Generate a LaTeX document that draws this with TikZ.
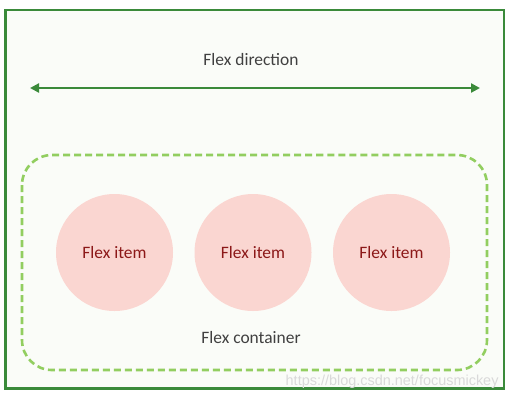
\documentclass[tikz,border=0pt]{standalone}
\usepackage{fontspec}
\setmainfont{Carlito}
\newfontfamily\wmfont{Liberation Sans}
\usetikzlibrary{arrows.meta, positioning}
\definecolor{framegreen}{RGB}{58,138,58}
\definecolor{dashgreen}{RGB}{146,206,96}
\definecolor{itempink}{RGB}{250,214,209}
\definecolor{itemred}{RGB}{140,24,24}
\definecolor{labelgray}{RGB}{64,64,64}
\definecolor{bgtint}{RGB}{250,252,248}
\begin{document}
\begin{tikzpicture}[
            x=1bp, y=-1bp,
            frame/.style={draw=framegreen, line width=2.8bp, fill=bgtint},
            container/.style={draw=dashgreen, line width=2.6bp, rounded corners=30bp, dash pattern=on 7bp off 4bp},
            item/.style={circle, fill=itempink, minimum size=117bp, inner sep=0pt, font=\fontsize{17.5}{20}\selectfont, text=itemred},
            label/.style={font=\fontsize{17.5}{20}\selectfont, text=labelgray},
            >={Triangle[length=9bp, width=9bp]}
        ]
        \useasboundingbox (0,0) rectangle (512,401);
        % Outer box
        \draw[frame] (5.5,10) rectangle (504,388.5);
        
        % Flex direction
        \node[label] (dirlbl) at (251,60) {Flex direction};
        \coordinate (dirL) at (30,88);
        \coordinate (dirR) at (480,88);
        \draw[<->, framegreen, line width=2.4bp] (dirL) -- (dirR);
        
        % Container
        \draw[container] (22,155) rectangle (487,370);
        \node[label] (contlbl) at (251,337) {Flex container};
        
        % Items
        \foreach \i/\x in {1/114.5, 2/253, 3/391.5}
            \node[item] (item\i) at (\x,252.5) {Flex item};
        
        % Watermark
        \node[font=\wmfont\fontsize{14.5}{16}\selectfont, text=gray!30, anchor=east] (wm) at (502,382) {https://blog.csdn.net/focusmickey};
        \end{tikzpicture}
\end{document}
